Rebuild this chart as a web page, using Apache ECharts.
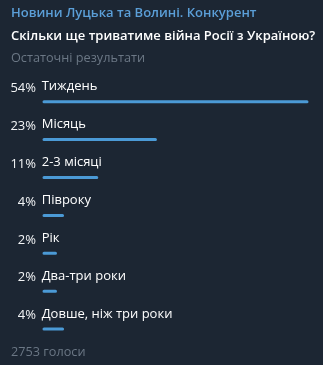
<!DOCTYPE html>
<html>
<head>
<meta charset="utf-8">
<script src="https://cdn.jsdelivr.net/npm/echarts@6/dist/echarts.min.js"></script>
<style>
html,body{margin:0;padding:0;background:#1c2633;}
#c{width:323px;height:365px;}
</style>
</head>
<body>
<div id="c"></div>
<script>
var channelName = 'Новини Луцька та Волині. Конкурент';
var question = 'Скільки ще триватиме війна Росії з Україною?';
var statusText = 'Остаточні результати';
var votesText = '2753 голоси';
var options = ['Тиждень', 'Місяць', '2-3 місяці', 'Півроку', 'Рік', 'Два-три роки', 'Довше, ніж три роки'];
var percents = [54, 23, 11, 4, 2, 2, 4];

var FONT = 'Open Sans';
var chart = echarts.init(document.getElementById('c'), null, {renderer: 'canvas'});
chart.setOption({
  backgroundColor: '#1c2633',
  animation: false,
  title: [
    {text: channelName, left: 6, top: 2, textStyle: {color: '#5b9fd8', fontFamily: FONT, fontSize: 13, fontWeight: 600}},
    {text: question, left: 6, top: 25, textStyle: {color: '#ffffff', fontFamily: FONT, fontSize: 13, fontWeight: 600}},
    {text: statusText, left: 6, top: 47, textStyle: {color: '#6b7785', fontFamily: FONT, fontSize: 12.7, fontWeight: 'normal'}},
    {text: votesText, left: 6, top: 341, textStyle: {color: '#6b7785', fontFamily: FONT, fontSize: 12.7, fontWeight: 'normal'}}
  ],
  grid: {left: 43.5, right: 15.5, top: 82.75, height: 265.3, containLabel: false},
  xAxis: {type: 'value', min: 0, max: 54, show: false},
  yAxis: {
    type: 'category', inverse: true, data: percents.map(function (p) { return p + '%'; }),
    axisLine: {show: false}, axisTick: {show: false}, splitLine: {show: false},
    axisLabel: {
      margin: 7.5, color: '#ffffff', fontFamily: FONT, fontSize: 13, fontWeight: 500,
      formatter: function (v) { return '{p|' + v + '}'; },
      rich: {p: {color: '#f2f4f6', fontFamily: FONT, fontSize: 13, fontWeight: 500, padding: [0, 0, 27, 0]}}
    }
  },
  series: [{
    type: 'bar',
    data: percents,
    barWidth: 1,
    barMinHeight: 12.5,
    itemStyle: {color: '#4b9ad6', borderColor: '#4b9ad6', borderWidth: 3, borderJoin: 'round'},
    label: {
      show: true, position: [-0.8, -13.5], align: 'left', verticalAlign: 'middle',
      color: '#ffffff', fontFamily: FONT, fontSize: 13,
      formatter: function (p) { return options[p.dataIndex]; }
    }
  }]
});
</script>
</body>
</html>
